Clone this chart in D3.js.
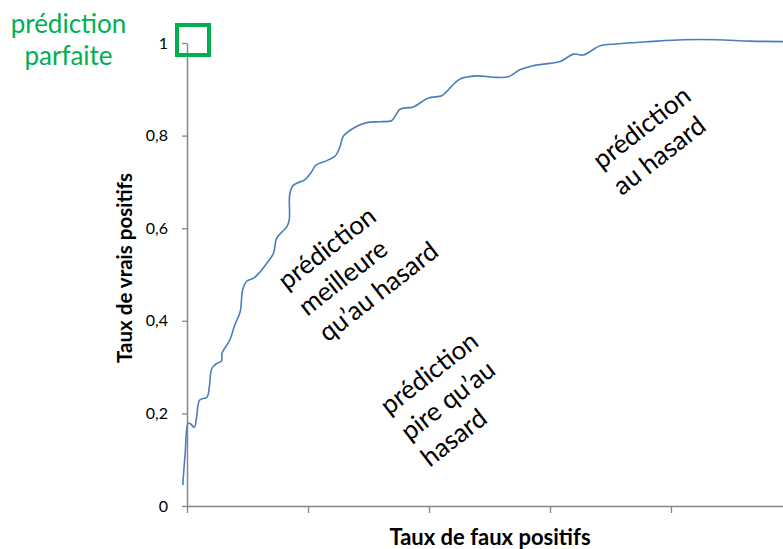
<!DOCTYPE html>
<html>
<head>
<meta charset="utf-8">
<script src="https://cdn.jsdelivr.net/npm/d3@7/dist/d3.min.js"></script>
<style>
  html, body { margin: 0; padding: 0; background: #fff; }
  svg { display: block; }
</style>
</head>
<body>
<div id="chart"></div>
<script>
// ---- Data ----
const fpr = [-0.007, -0.003, 0.002, 0.006, 0.012, 0.016, 0.021, 0.033, 0.037, 0.041,
             0.049, 0.057, 0.058, 0.071, 0.079, 0.088, 0.092, 0.099, 0.110, 0.121,
             0.134, 0.143, 0.148, 0.157, 0.165, 0.169, 0.170, 0.176, 0.195, 0.206,
             0.213, 0.231, 0.245, 0.253, 0.258, 0.275, 0.297, 0.319, 0.338, 0.345,
             0.352, 0.374, 0.399, 0.421, 0.429, 0.451, 0.479, 0.506, 0.531, 0.550,
             0.572, 0.600, 0.617, 0.639, 0.655, 0.683, 0.710, 0.765, 0.820, 0.875,
             0.931, 0.986, 1.000];
const tpr = [0.045, 0.114, 0.179, 0.177, 0.170, 0.193, 0.229, 0.235, 0.258, 0.297,
             0.308, 0.313, 0.330, 0.359, 0.391, 0.420, 0.467, 0.486, 0.492, 0.506,
             0.528, 0.546, 0.578, 0.592, 0.603, 0.618, 0.675, 0.693, 0.705, 0.722,
             0.736, 0.746, 0.756, 0.776, 0.798, 0.816, 0.828, 0.830, 0.832, 0.844,
             0.857, 0.862, 0.881, 0.886, 0.895, 0.922, 0.929, 0.926, 0.927, 0.942,
             0.951, 0.956, 0.960, 0.976, 0.974, 0.994, 0.998, 1.003, 1.007, 1.007,
             1.004, 1.003, 1.003];
const yTicks = [0, 0.2, 0.4, 0.6, 0.8, 1];
const yTickLabels = ["0", "0,2", "0,4", "0,6", "0,8", "1"];
const xTicks = [0, 0.2, 0.4, 0.6, 0.8, 1];
const xTitle = "Taux de faux positifs";
const yTitle = "Taux de vrais positifs";
const perfectLabel = ["prédiction", "parfaite"];
const annotations = [
  { lines: ["prédiction", "meilleure", "qu’au hasard"], x: 0.165, y: 0.465 },
  { lines: ["prédiction", "pire qu’au", "hasard"], x: 0.334, y: 0.195 },
  { lines: ["prédiction", "au hasard"], x: 0.685, y: 0.725 }
];
const perfectPoint = { x: 0, y: 1 };

// ---- Layout ----
const W = 783, H = 549;
const svg = d3.select("#chart").append("svg")
  .attr("width", W).attr("height", H)
  .style("font-family", "Lato, 'Open Sans', sans-serif");

const x = d3.scaleLinear().domain([0, 1]).range([187, 792]);
const y = d3.scaleLinear().domain([0, 1]).range([506, 43]);
const axisColor = "#868686";

// X axis
const gx = svg.append("g").attr("transform", `translate(0,${y(0)})`)
  .call(d3.axisBottom(x).tickValues(xTicks).tickSize(7).tickSizeOuter(0).tickFormat(""));
gx.select(".domain").attr("stroke", axisColor).attr("stroke-width", 1.5);
gx.selectAll(".tick line").attr("stroke", axisColor).attr("stroke-width", 1.3);

// Y axis
const gy = svg.append("g").attr("transform", `translate(${x(0)},0)`)
  .call(d3.axisLeft(y).tickValues(yTicks).tickSize(5).tickSizeOuter(0).tickPadding(14)
        .tickFormat((d, i) => yTickLabels[i]));
gy.select(".domain").attr("stroke", axisColor).attr("stroke-width", 1.5);
gy.selectAll(".tick line").attr("stroke", axisColor).attr("stroke-width", 1.3);
gy.selectAll(".tick text").attr("fill", "#000").style("font-size", "16px")
  .style("font-family", "Lato, sans-serif");

// Curve
const pts = fpr.map((d, i) => [d, tpr[i]]);
const line = d3.line().x(d => x(d[0])).y(d => y(d[1])).curve(d3.curveCatmullRom.alpha(0.5));
svg.append("path").datum(pts).attr("d", line)
  .attr("fill", "none").attr("stroke", "#4A7EBB").attr("stroke-width", 1.6);

// Axis titles
svg.append("text").attr("x", 490).attr("y", 545).attr("text-anchor", "middle")
  .style("font-size", "22px").style("font-weight", "bold").attr("fill", "#000").text(xTitle);
svg.append("text").attr("transform", "translate(132,268) rotate(-90)").attr("text-anchor", "middle")
  .style("font-size", "20.5px").style("font-weight", "bold").attr("fill", "#000").text(yTitle);

// Perfect prediction square
const green = "#00B050";
svg.append("rect")
  .attr("x", x(perfectPoint.x) - 10).attr("y", y(perfectPoint.y) - 18)
  .attr("width", 32).attr("height", 30)
  .attr("fill", "none").attr("stroke", green).attr("stroke-width", 4);
const pl = svg.append("text").attr("text-anchor", "middle").attr("fill", green)
  .style("font-size", "26px");
perfectLabel.forEach((t, i) => {
  pl.append("tspan").attr("x", 68.5).attr("y", 33 + i * 32).text(t);
});

// Rotated annotations (left aligned)
annotations.forEach(a => {
  const g = svg.append("g")
    .attr("transform", `translate(${x(a.x)},${y(a.y)}) rotate(-38)`);
  a.lines.forEach((t, i) => {
    g.append("text").attr("x", 0).attr("y", i * 33)
      .attr("fill", "#000").style("font-size", "26px").text(t);
  });
});
</script>
</body>
</html>
